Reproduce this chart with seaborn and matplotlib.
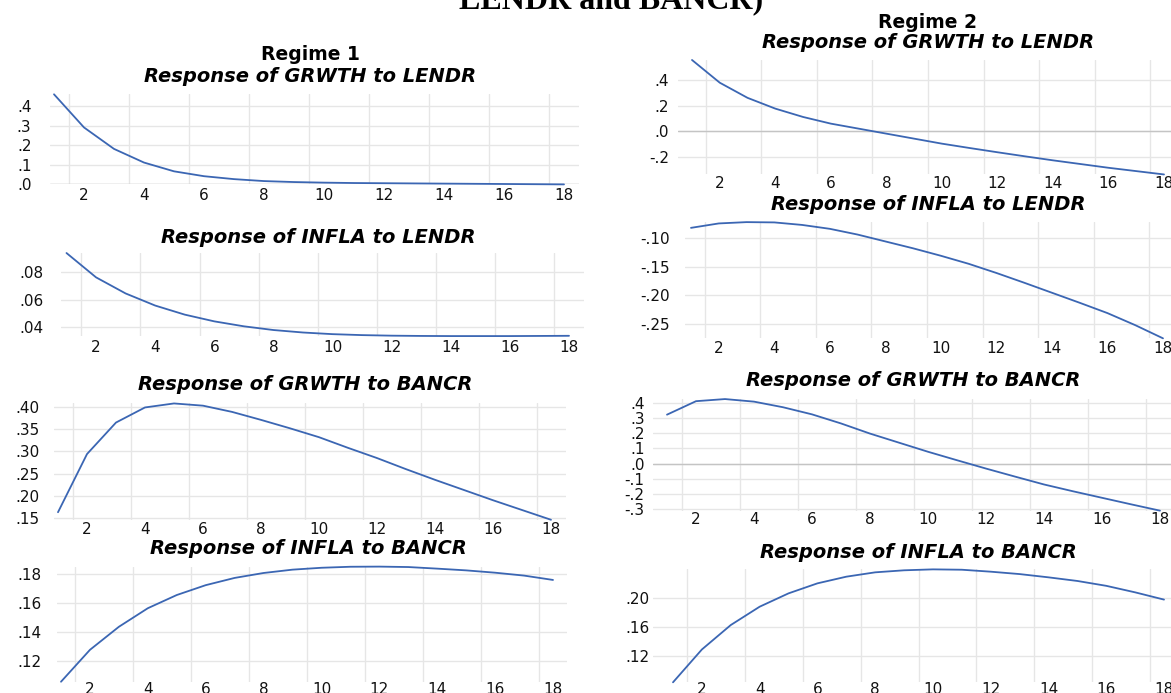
import matplotlib
matplotlib.use("Agg")
import matplotlib.pyplot as plt
import seaborn as sns

# impulse responses, periods 1..18
periods = list(range(1, 19))

# Regime 1
r1_grwth_lendr = [0.460, 0.290, 0.180, 0.110, 0.065, 0.040, 0.025, 0.015, 0.010,
                  0.007, 0.005, 0.004, 0.003, 0.002, 0.001, 0.000, -0.001, -0.002]
r1_infla_lendr = [0.0938, 0.0761, 0.0644, 0.0556, 0.0490, 0.0441, 0.0405, 0.0378, 0.0360,
                  0.0348, 0.0341, 0.0337, 0.0335, 0.0334, 0.0334, 0.0334, 0.0335, 0.0336]
r1_grwth_bancr = [0.163, 0.294, 0.365, 0.399, 0.408, 0.403, 0.389, 0.371, 0.352,
                  0.332, 0.308, 0.285, 0.260, 0.236, 0.213, 0.190, 0.168, 0.146]
r1_infla_bancr = [0.1057, 0.1277, 0.1436, 0.1564, 0.1655, 0.1723, 0.1773, 0.1807, 0.1830,
                  0.1843, 0.1850, 0.1851, 0.1848, 0.1837, 0.1825, 0.1809, 0.1789, 0.1759]

# Regime 2
r2_grwth_lendr = [0.556, 0.379, 0.261, 0.177, 0.112, 0.060, 0.021, -0.018, -0.057,
                  -0.096, -0.130, -0.163, -0.195, -0.226, -0.255, -0.284, -0.310, -0.336]
r2_infla_lendr = [-0.0823, -0.0746, -0.0723, -0.0728, -0.0772, -0.0840, -0.0940, -0.1060, -0.1180,
                  -0.1310, -0.1450, -0.1610, -0.1780, -0.1955, -0.2130, -0.2310, -0.2520, -0.2750]
r2_grwth_bancr = [0.323, 0.412, 0.426, 0.409, 0.372, 0.325, 0.265, 0.198, 0.138,
                  0.078, 0.022, -0.033, -0.086, -0.138, -0.183, -0.226, -0.269, -0.311]
r2_infla_bancr = [0.0837, 0.1290, 0.1627, 0.1880, 0.2064, 0.2202, 0.2294, 0.2354, 0.2382,
                  0.2395, 0.2390, 0.2363, 0.2330, 0.2285, 0.2235, 0.2168, 0.2078, 0.1978]

# axis ticks and labels
x_ticks = [2, 4, 6, 8, 10, 12, 14, 16, 18]
x_labels = [str(v) for v in x_ticks]

r1a_ticks = [0.0, 0.1, 0.2, 0.3, 0.4]
r1a_labels = [".0", ".1", ".2", ".3", ".4"]
r1b_ticks = [0.04, 0.06, 0.08]
r1b_labels = [".04", ".06", ".08"]
r1c_ticks = [0.15, 0.20, 0.25, 0.30, 0.35, 0.40]
r1c_labels = [".15", ".20", ".25", ".30", ".35", ".40"]
r1d_ticks = [0.12, 0.14, 0.16, 0.18]
r1d_labels = [".12", ".14", ".16", ".18"]
r2a_ticks = [-0.2, 0.0, 0.2, 0.4]
r2a_labels = ["-.2", ".0", ".2", ".4"]
r2b_ticks = [-0.25, -0.20, -0.15, -0.10]
r2b_labels = ["-.25", "-.20", "-.15", "-.10"]
r2c_ticks = [-0.3, -0.2, -0.1, 0.0, 0.1, 0.2, 0.3, 0.4]
r2c_labels = ["-.3", "-.2", "-.1", ".0", ".1", ".2", ".3", ".4"]
r2d_ticks = [0.12, 0.16, 0.20]
r2d_labels = [".12", ".16", ".20"]

W, H = 1171, 693
sns.set_style("white")
plt.rcParams['font.family'] = ['DejaVu Sans']

fig = plt.figure(figsize=(W / 100, H / 100), dpi=100)

line_col = "#3b66b3"
grid_col = "#e6e6e6"
zero_col = "#c4c4c4"

# panel placement in pixels: x of period 1, x of period 18, two y reference points,
# x range, label pads, title centre
panels = [
    (r1_grwth_lendr, r1a_ticks, r1a_labels, "Response of GRWTH to LENDR",
     54, 564, (0.4, 106), (0.0, 184), 0.85, 18.5, 18, 4, (310, 76)),
    (r1_infla_lendr, r1b_ticks, r1b_labels, "Response of INFLA to LENDR",
     66.5, 569, (0.08, 272), (0.04, 327), 0.8, 18.5, 17, 4, (318, 237)),
    (r1_grwth_bancr, r1c_ticks, r1c_labels, "Response of GRWTH to BANCR",
     58, 551, (0.40, 407), (0.15, 518), 0.85, 18.5, 14, 2, (305, 385)),
    (r1_infla_bancr, r1d_ticks, r1d_labels, "Response of INFLA to BANCR",
     61, 553, (0.18, 574), (0.12, 661), 0.85, 18.5, 15, 0, (308, 549)),
    (r2_grwth_lendr, r2a_ticks, r2a_labels, "Response of GRWTH to LENDR",
     692, 1164, (0.4, 80), (-0.2, 157), 0.5, 18.5, 9, 2, (928, 43)),
    (r2_infla_lendr, r2b_ticks, r2b_labels, "Response of INFLA to LENDR",
     691, 1163, (-0.10, 238), (-0.25, 324), 0.8, 18.5, 16, 3, (928, 205)),
    (r2_grwth_bancr, r2c_ticks, r2c_labels, "Response of GRWTH to BANCR",
     667, 1160, (0.4, 403), (-0.3, 509), 0.5, 18.5, 8, 1, (913, 381)),
    (r2_infla_bancr, r2d_ticks, r2d_labels, "Response of INFLA to BANCR",
     673, 1164, (0.20, 598), (0.12, 656), 0.3, 18.5, 3, 0, (918, 552)),
]

for (vals, yt, yl, title, x1, x18, (va, ya), (vb, yb), xlo, xhi, ypad, xpad, (tx, ty)) in panels:
    ppu = (x18 - x1) / 17
    ppv = (yb - ya) / (va - vb)
    ylo, yhi = min(vals), max(vals)
    left = x1 + (xlo - 1) * ppu
    width = (xhi - xlo) * ppu
    top = ya - (yhi - va) * ppv
    height = (yhi - ylo) * ppv
    ax = fig.add_axes([left / W, 1 - (top + height) / H, width / W, height / H])

    sns.lineplot(x=periods, y=vals, ax=ax, color=line_col, linewidth=1.3)
    for ln in ax.lines:
        ln.set_clip_on(False)
    ax.set_xlim(xlo, xhi)
    ax.set_ylim(ylo, yhi)
    ax.set_xticks(x_ticks)
    ax.set_xticklabels(x_labels)
    ax.set_xticks([p + 0.5 for p in periods[:-1:2]], minor=True)
    ax.set_yticks(yt)
    ax.set_yticklabels(yl)
    ax.grid(which="minor", axis="x", color=grid_col, linewidth=1.0)
    ax.grid(which="major", axis="y", color=grid_col, linewidth=1.0)
    if ylo <= 0 <= yhi:
        ax.axhline(0, color=zero_col, linewidth=1.0, zorder=1)
    ax.tick_params(which="both", length=0, labelsize=11, colors="#111111")
    ax.tick_params(axis="y", pad=ypad * 0.72)
    ax.tick_params(axis="x", pad=xpad * 0.72)
    ax.set_xlabel("")
    ax.set_ylabel("")
    for s in ax.spines.values():
        s.set_visible(False)
    ax.patch.set_alpha(0)

    fig.text(tx / W, 1 - ty / H, title, ha="center", va="center",
             fontsize=14, fontweight="bold", fontstyle="oblique", color="black")

fig.text(310 / W, 1 - 55 / H, "Regime 1", ha="center", va="center",
         fontsize=13.5, fontweight="bold", color="black")
fig.text(928 / W, 1 - 22 / H, "Regime 2", ha="center", va="center",
         fontsize=13.5, fontweight="bold", color="black")
fig.text(611 / W, 1 - 8 / H, "LENDR and BANCR)", ha="center", va="baseline",
         fontsize=23, fontweight="bold", family=["Liberation Serif", "DejaVu Serif"],
         color="black")

fig.savefig("out.png", dpi=100)
